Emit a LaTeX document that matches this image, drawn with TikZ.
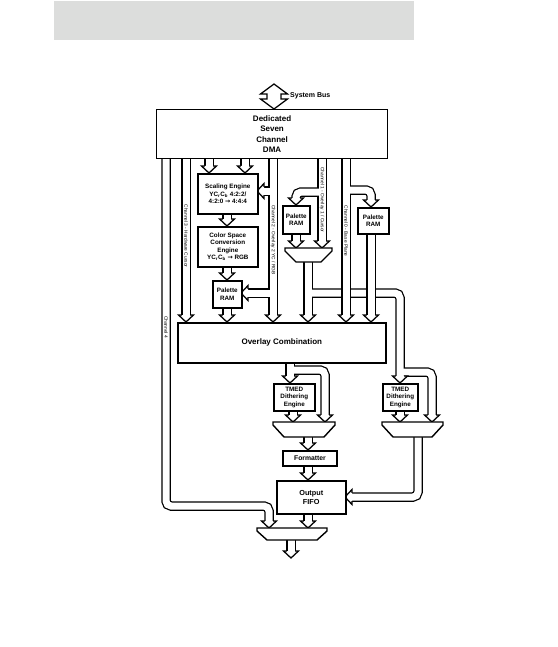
\documentclass[tikz,border=0pt]{standalone}
\usepackage{fontspec}
\setmainfont{Liberation Sans}
\newfontfamily\dvs{DejaVu Sans}
\definecolor{bann}{HTML}{DCDDDC}
\pgfdeclarelayer{la}\pgfdeclarelayer{lb}\pgfdeclarelayer{lc}\pgfdeclarelayer{ld}\pgfdeclarelayer{le}
\pgfsetlayers{la,lb,lc,ld,le,main}
\newcommand\shA[2]{\begin{pgfonlayer}{la}\draw[sho,#1] #2;\end{pgfonlayer}\begin{pgfonlayer}{lb}\draw[shi,#1] #2;\end{pgfonlayer}}
\newcommand\shB[2]{\begin{pgfonlayer}{lc}\draw[sho,#1] #2;\end{pgfonlayer}\begin{pgfonlayer}{ld}\draw[shi,#1] #2;\end{pgfonlayer}}
\newcommand\hdD[1]{\begin{pgfonlayer}{le}\pic at #1 {hdown};\end{pgfonlayer}}
\newcommand\hdL[1]{\begin{pgfonlayer}{le}\pic at #1 {hleft};\end{pgfonlayer}}
\begin{document}
\begin{tikzpicture}[x=1pt,y=-1pt,
  box/.style={draw=black, line width=1.6pt, fill=white, anchor=north west, inner sep=0pt, align=center, font=\fontsize{6.3}{7.4}\selectfont\bfseries},
  mux/.style={draw=black, line width=1.4pt, fill=white, line join=miter},
  sho/.style={line width=9.5pt, draw=black, rounded corners=5pt},
  shi/.style={line width=7pt, draw=white, rounded corners=5pt},
  cut/.style={shorten >=6.5pt},
  chl/.style={rotate=-90, font=\fontsize{4.8}{5}\selectfont, inner sep=0pt},
  hdown/.pic={\filldraw[fill=white, draw=black, line width=1.25pt] (-4.125,-7) -- (-7.5,-7) -- (0,0) -- (7.5,-7) -- (4.125,-7);},
  hleft/.pic={\filldraw[fill=white, draw=black, line width=1.25pt] (7,-4.125) -- (7,-7.5) -- (0,0) -- (7,7.5) -- (7,4.125);},
]
\useasboundingbox (0,0) rectangle (557,647);
\fill[bann] (54,1) rectangle (414,40);

% ---------- boxes ----------
\node[box, minimum width=231, minimum height=49, line width=1.2pt, font=\fontsize{8}{10.5}\selectfont\bfseries] (dma) at (156,109) {Dedicated\\Seven\\Channel\\DMA};
\node[box, minimum width=60, minimum height=40] (sc) at (197,173) {Scaling Engine\\YC\textsubscript{r}C\textsubscript{b} 4:2:2/\\4:2:0 {\dvs →} 4:4:4};
\node[box, minimum width=60, minimum height=40] (cs) at (197,226) {Color Space\\Conversion\\Engine\\YC\textsubscript{r}C\textsubscript{b} {\dvs →} RGB};
\node[box, minimum width=29, minimum height=27] (pl) at (212,280) {Palette\\RAM};
\node[box, minimum width=27, minimum height=28] (pm) at (282,205) {Palette\\RAM};
\node[box, minimum width=31, minimum height=26] (pr) at (357,207) {Palette\\RAM};
\node[box, minimum width=208, minimum height=40, font=\fontsize{8}{9}\selectfont\bfseries] (ov) at (177,322) {Overlay Combination};
\node[box, minimum width=41, minimum height=27] (tm) at (273,383) {TMED\\Dithering\\Engine};
\node[box, minimum width=35, minimum height=27] (tr) at (382,383) {TMED\\Dithering\\Engine};
\node[box, minimum width=54, minimum height=15, line width=2pt, font=\fontsize{6.8}{8}\selectfont\bfseries] (fm) at (282,450) {Formatter};
\node[box, minimum width=69, minimum height=33, font=\fontsize{7.3}{9}\selectfont\bfseries] (ff) at (276,480) {Output\\FIFO};

% ---------- multiplexers ----------
\draw[mux] (285,248) -- (332,248) -- (332,251) -- (321,262) -- (296,262) -- (285,251) -- cycle;
\draw[mux] (273,422) -- (335,422) -- (335,425) -- (324,437) -- (284,437) -- (273,425) -- cycle;
\draw[mux] (382,422) -- (443,422) -- (443,425) -- (432,437) -- (393,437) -- (382,425) -- cycle;
\draw[mux] (257,528) -- (327,528) -- (327,531) -- (317,540) -- (267,540) -- (257,531) -- cycle;
\coordinate (mxa) at (308,262);
\coordinate (mxb) at (308,437);
\coordinate (mxc) at (418,437);
\coordinate (mxd) at (291,540);

% ---------- system bus ----------
\node[inner sep=0pt] (sbtip) at (274,84) {};
\draw[line width=1.25pt, fill=white, line join=miter] (sbtip.center) -- (287.5,94) -- (281,94) -- (281,99) -- (287.5,99) -- (274,109) -- (260.5,99) -- (267,99) -- (267,94) -- (260.5,94) -- cycle;
\node[anchor=west, inner sep=0pt, font=\fontsize{7}{8}\selectfont\bfseries] (sbl) at (290,96) {System Bus};

% ---------- group A: mux output and right loop ----------
\shA{cut}{(mxa) -- (308,322)}
\shA{cut}{(308,293) -- (400,293) -- (400,383)}
\shA{cut}{(400,372) -- (432,372) -- (432,422)}
\hdD{(308,322)} \hdD{(400,383)} \hdD{(432,422)}

% ---------- group B ----------
\shB{cut}{(166,158) -- (166,506) -- (269,506) -- (269,528)}
\shB{cut}{(186,158) -- (186,322)}
\shB{cut}{(209,158) -- (209,173)}
\shB{cut}{(245,158) -- (245,173)}
\shB{cut}{(227,213) -- (227,226)}
\shB{cut}{(227,266) -- (227,280)}
\shB{cut}{(227,307) -- (227,322)}
\shB{cut}{(273,158) -- (273,322)}
\shB{cut}{(273,191) -- (257,191)}
\shB{cut}{(273,293) -- (241,293)}
\shB{cut}{(322,158) -- (322,248)}
\shB{cut}{(322,192) -- (296,192) -- (296,205)}
\shB{cut}{(296,233) -- (296,248)}
\shB{cut}{(346,158) -- (346,322)}
\shB{cut}{(346,190) -- (371,190) -- (371,207)}
\shB{cut}{(371,233) -- (371,322)}
\shB{cut}{(290,362) -- (290,383)}
\shB{cut}{(290,370) -- (325,370) -- (325,422)}
\shB{cut}{(293,410) -- (293,422)}
\shB{cut}{(400,410) -- (400,422)}
\shB{cut}{(mxb) -- (308,450)}
\shB{cut}{(308,465) -- (308,480)}
\shB{cut}{(mxc) -- (418,497) -- (345,497)}
\shB{cut}{(308,513) -- (308,528)}
\shB{cut}{(mxd) -- (291,558)}
\hdD{(269,528)} \hdD{(186,322)} \hdD{(209,173)} \hdD{(245,173)}
\hdD{(227,226)} \hdD{(227,280)} \hdD{(227,322)} \hdD{(273,322)}
\hdL{(257,191)} \hdL{(241,293)}
\hdD{(322,248)} \hdD{(296,205)} \hdD{(296,248)}
\hdD{(346,322)} \hdD{(371,207)} \hdD{(371,322)}
\hdD{(290,383)} \hdD{(325,422)} \hdD{(293,422)} \hdD{(400,422)}
\hdD{(308,450)} \hdD{(308,480)} \hdL{(345,497)} \hdD{(308,528)} \hdD{(291,558)}

% ---------- channel labels ----------
\node[chl] (l6) at (166,327) {Channel 4};
\node[chl] (l3) at (186,236) {Channel 3 - Hardware Cursor};
\node[chl] (l2) at (273,240) {Channel 2 - Overlay 2 YC / RGB};
\node[chl] (l1) at (322,200) {Channel 1 - Overlay 1 / Cursor};
\node[chl] (l0) at (346,231) {Channel 0 - Base Plane};
\end{tikzpicture}
\end{document}
